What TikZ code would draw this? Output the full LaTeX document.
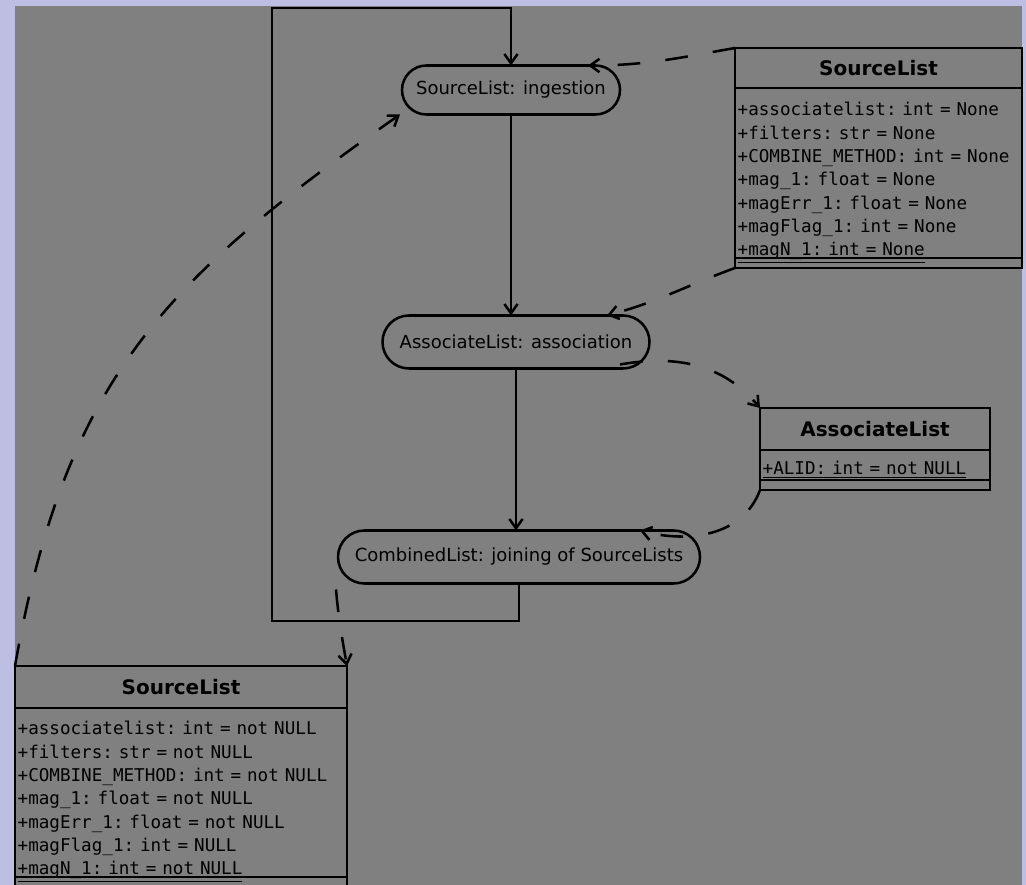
\documentclass[tikz,border=0pt]{standalone}
\usepackage{fontspec}
\setmainfont{DejaVu Sans}
\newfontfamily\attrfont{DejaVu Sans Mono}
\DeclareRobustCommand\attrstyle{\attrfont\fontsize{13.2}{17.5}\selectfont\frenchspacing}
\usetikzlibrary{arrows.meta,positioning,calc,shapes.misc}
\definecolor{bgframe}{RGB}{190,190,226}
\definecolor{canvas}{RGB}{128,128,128}

\begin{document}
\begin{tikzpicture}[
  x=0.75pt, y=0.75pt,
  line width=1.9pt,
  act/.style={draw, rounded rectangle, outer sep=0pt, inner sep=0pt, minimum height=39.75pt, font=\fontsize{13.5}{16}\selectfont},
  clshead/.style={draw, outer sep=0pt, inner sep=0pt, minimum height=31.5pt, font=\fontsize{15}{18}\selectfont\bfseries},
  clsattr/.style={draw, outer sep=0pt, inner xsep=2pt, inner ysep=0pt, align=left, font=\attrstyle},
  clsops/.style={draw, outer sep=0pt, inner sep=0pt, minimum height=7.5pt},
  flow/.style={->},
  dep/.style={->, dash pattern=on 17pt off 19pt},
  >={Straight Barb[length=7pt,width=10pt]}
]
  \useasboundingbox (0,0) rectangle (1026,885);
  \fill[bgframe] (0,0) rectangle (1026,885);
  \fill[canvas] (15,0) rectangle (1022,879);

  % Activities
  \node[act, minimum width=163.5pt, minimum height=36.75pt] (ingest) at (511,795) {SourceList: ingestion};
  \node[act, minimum width=200.25pt, below=150.75pt of ingest, xshift=3.75pt] (assoc) {AssociateList: association};
  \node[act, minimum width=271.5pt, below=121.5pt of assoc, xshift=2.25pt] (comb) {CombinedList: joining of SourceLists};

  % Classes
  \node[clshead, minimum width=215.25pt, minimum height=30pt, anchor=north west] (srcRhead) at (735,837) {SourceList};
  \node[clsattr, text width=211.25pt, text height=21pt, text depth=106.5pt, below=0pt of srcRhead] (srcRattr) {+associatelist: int = None\\+filters: str = None\\+COMBINE\_METHOD: int = None\\+mag\_1: float = None\\+magErr\_1: float = None\\+magFlag\_1: int = None\\\underline{+magN\_1: int = None}};
  \node[clsops, minimum width=215.25pt, below=0pt of srcRattr] (srcRops) {};

  \node[clshead, minimum width=172.5pt, anchor=north west] (alhead) at (760,477) {AssociateList};
  \node[clsattr, text width=168.5pt, text height=18.75pt, text depth=3.75pt, below=0pt of alhead] (alattr) {\underline{+ALID: int = not NULL}};
  \node[clsops, minimum width=172.5pt, below=0pt of alattr] (alops) {};

  \node[clshead, minimum width=249pt, anchor=north west] (srcLhead) at (15,219) {SourceList};
  \node[clsattr, text width=245pt, text height=20.25pt, text depth=106.5pt, below=0pt of srcLhead] (srcLattr) {+associatelist: int = not NULL\\+filters: str = not NULL\\+COMBINE\_METHOD: int = not NULL\\+mag\_1: float = not NULL\\+magErr\_1: float = not NULL\\+magFlag\_1: int = NULL\\\underline{+magN\_1: int = not NULL}};
  \node[clsops, minimum width=249pt, below=0pt of srcLattr] (srcLops) {};

  % Flows
  \coordinate (loopL) at (272,264);
  \coordinate (loopT) at (272,877);
  \draw[flow] (comb.south) |- (loopL) -- (loopT) -| (ingest.north);
  \draw[flow] (ingest.south) -- (ingest.south |- assoc.north);
  \draw[flow] (assoc.south) -- (assoc.south |- comb.north);

  % Dependencies
  \draw[dep] (srcRhead.north west) to[out=190,in=0] ($(ingest.north)+(77,0)$);
  \draw[dep] (srcRops.south west) to[out=200,in=15] ($(assoc.north)+(91,0)$);
  \draw[dep] ($(assoc.south)+(104,4)$) to[out=10,in=130] (alhead.north west);
  \draw[dep] (alops.south west) to[out=250,in=-15] ($(comb.north)+(121,0)$);
  \draw[dep] (srcLhead.north west) to[out=80,in=215,looseness=1.1] ($(ingest.south)+(-111,0)$);
  \draw[dep] ($(comb.south)+(-183,-6)$) to[out=-85,in=100] (srcLhead.north east);
\end{tikzpicture}
\end{document}
